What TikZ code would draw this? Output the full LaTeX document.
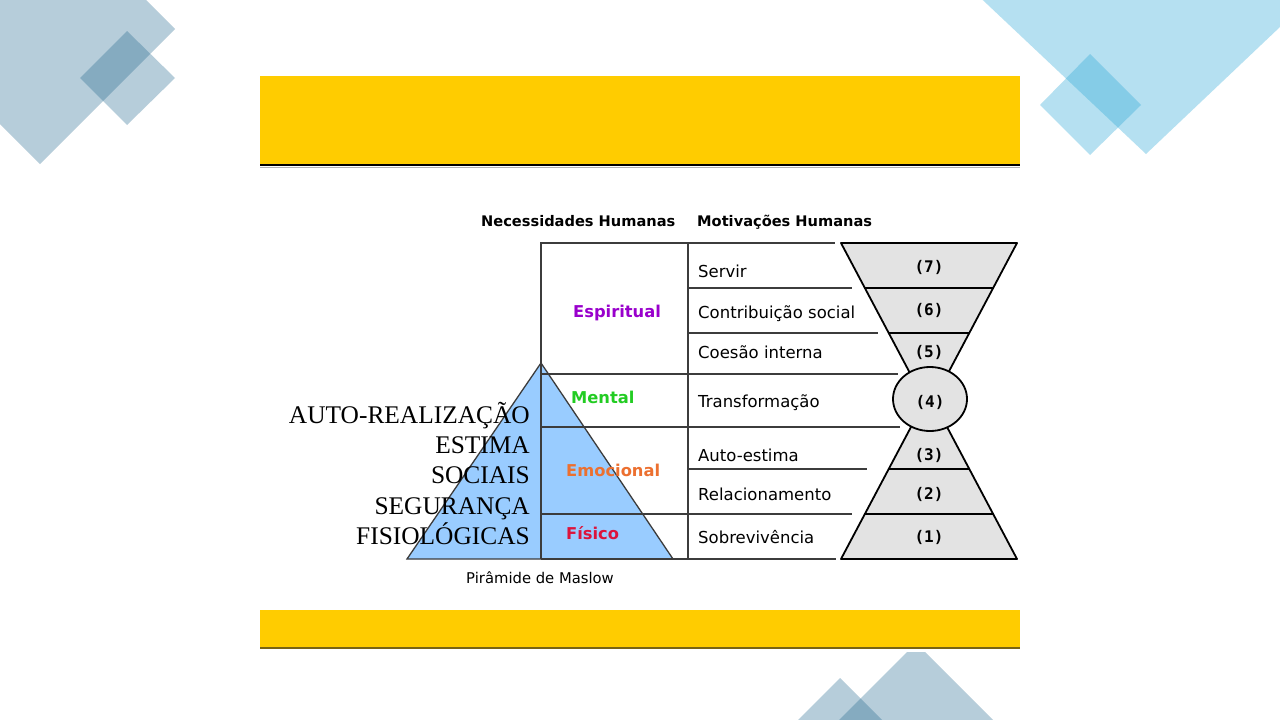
\documentclass[tikz,border=0pt]{standalone}
\usepackage{fontspec}
\setmainfont{Liberation Serif}
\newfontfamily\vsans{DejaVu Sans}
\newfontfamily\vmono{DejaVu Sans Mono}
\usetikzlibrary{calc}

\definecolor{deco}{RGB}{30,100,140}
\definecolor{decosky}{RGB}{44,169,215}
\definecolor{barfill}{RGB}{255,204,0}
\definecolor{barline}{RGB}{120,100,20}
\definecolor{pyrfill}{RGB}{153,204,255}
\definecolor{glassfill}{RGB}{227,227,227}
\definecolor{rulecol}{RGB}{60,60,60}
\definecolor{cpurple}{RGB}{153,0,204}
\definecolor{cgreen}{RGB}{34,204,34}
\definecolor{corange}{RGB}{236,112,48}
\definecolor{cred}{RGB}{220,20,60}

\begin{document}
\begin{tikzpicture}[x=1pt,y=-1pt,
  tline/.style={draw=rulecol,line width=1.4pt},
  gline/.style={draw=black,line width=1.8pt},
  hdr/.style={font=\vsans\bfseries\fontsize{14.6}{17}\selectfont,anchor=base west,inner sep=0pt},
  motlabel/.style={font=\vsans\fontsize{16.5}{19}\selectfont,anchor=base west,inner sep=0pt},
  catlabel/.style={font=\vsans\bfseries\fontsize{16.3}{19}\selectfont,anchor=base west,inner sep=0pt},
  numlabel/.style={font=\vmono\bfseries\fontsize{16}{19}\selectfont,anchor=base,inner sep=0pt},
  maslow/.style={font=\fontsize{25.4}{29}\selectfont,anchor=base east,inner sep=0pt},
  caption/.style={font=\vsans\fontsize{14.8}{17}\selectfont,anchor=base west,inner sep=0pt}]
\useasboundingbox (0,0) rectangle (1280,720);
\fill[white] (0,0) rectangle (1280,720);

% corner decorations
\begin{scope}
  \clip (0,0) rectangle (1280,720);
  \fill[deco,opacity=0.32] (40,-106) -- (175,29) -- (40,164) -- (-95,29) -- cycle;
  \fill[deco,opacity=0.32] (127,31) -- (175,78) -- (127,125) -- (80,78) -- cycle;
  \fill[decosky,opacity=0.35] (970,-12) -- (1146,154) -- (1319,-10) -- cycle;
  \fill[decosky,opacity=0.35] (1090,54) -- (1141,105) -- (1090,155) -- (1040,105) -- cycle;
  \fill[deco,opacity=0.32] (840,678) -- (890,728) -- (840,778) -- (790,728) -- cycle;
  \fill[deco,opacity=0.32] (916,643) -- (1016,743) -- (916,843) -- (816,743) -- cycle;
\end{scope}

% slide panel with its two yellow bands
\fill[white] (260,70) rectangle (1020,652);
\fill[barfill] (260,76) rectangle (1020,164);
\draw[black,line width=2pt] (260,165) -- (1020,165);
\draw[black!30,line width=1pt] (260,167) -- (1020,167);
\fill[barfill] (260,610) rectangle (1020,647);
\draw[barline,line width=1.5pt] (260,648) -- (1020,648);

% Maslow pyramid
\coordinate (pA) at (541,363);
\coordinate (pL) at (407,559);
\coordinate (pR) at (673,559);
\filldraw[fill=pyrfill,draw=rulecol,line width=1.3pt] (pA) -- (pR) -- (pL) -- cycle;

% table rules
\draw[tline] (540,243) -- (835,243);
\draw[tline] (688,288) -- (852,288);
\draw[tline] (688,333) -- (878,333);
\draw[tline] (541,374) -- (898,374);
\draw[tline] (541,427) -- (900,427);
\draw[tline] (688,469) -- (867,469);
\draw[tline] (541,514) -- (852,514);
\draw[tline] (541,559) -- (836,559);
\draw[tline] (541,243) -- (541,559);
\draw[tline] (688,243) -- (688,559);

% hourglass of motivations
\coordinate (tL) at (841,243);
\coordinate (tR) at (1017,243);
\coordinate (tA) at (929,409);
\coordinate (bL) at (841,559);
\coordinate (bR) at (1017,559);
\coordinate (bA) at (929,393);
\filldraw[fill=glassfill,gline,line join=round] (tL) -- (tR) -- (tA) -- cycle;
\filldraw[fill=glassfill,gline,line join=round] (bL) -- (bR) -- (bA) -- cycle;
\draw[gline] ($(tL)!0.271!(tA)$) -- ($(tR)!0.271!(tA)$);
\draw[gline] ($(tL)!0.542!(tA)$) -- ($(tR)!0.542!(tA)$);
\draw[gline] ($(bL)!0.271!(bA)$) -- ($(bR)!0.271!(bA)$);
\draw[gline] ($(bL)!0.542!(bA)$) -- ($(bR)!0.542!(bA)$);
\filldraw[fill=glassfill,gline] (930,399) ellipse [x radius=37pt, y radius=32pt];

% headings
\node[hdr] (hNec) at (481,226) {Necessidades Humanas};
\node[hdr] (hMot) at (697,226) {Motivações Humanas};

% needs
\node[catlabel,text=cpurple] (nEsp) at (573,317) {Espiritual};
\node[catlabel,text=cgreen]  (nMen) at (571,403) {Mental};
\node[catlabel,text=corange] (nEmo) at (566,476) {Emocional};
\node[catlabel,text=cred]    (nFis) at (566,539) {Físico};

% motivations
\node[motlabel] (m7) at (698,277) {Servir};
\node[motlabel] (m6) at (698,318) {Contribuição social};
\node[motlabel] (m5) at (698,358) {Coesão interna};
\node[motlabel] (m4) at (698,407) {Transformação};
\node[motlabel] (m3) at (698,461) {Auto-estima};
\node[motlabel] (m2) at (698,500) {Relacionamento};
\node[motlabel] (m1) at (698,543) {Sobrevivência};

% levels
\node[numlabel] (l7) at (929,272) {(7)};
\node[numlabel] (l6) at (929,315) {(6)};
\node[numlabel] (l5) at (929,357) {(5)};
\node[numlabel] (l4) at (930,407) {(4)};
\node[numlabel] (l3) at (929,460) {(3)};
\node[numlabel] (l2) at (929,499) {(2)};
\node[numlabel] (l1) at (929,542) {(1)};

% Maslow levels
\node[maslow] (s5) at (530,423) {AUTO-REALIZAÇÃO};
\node[maslow] (s4) at (530,453) {ESTIMA};
\node[maslow] (s3) at (530,483) {SOCIAIS};
\node[maslow] (s2) at (530,514) {SEGURANÇA};
\node[maslow] (s1) at (530,544) {FISIOLÓGICAS};

\node[caption] (cap) at (466,583) {Pirâmide de Maslow};
\end{tikzpicture}
\end{document}
